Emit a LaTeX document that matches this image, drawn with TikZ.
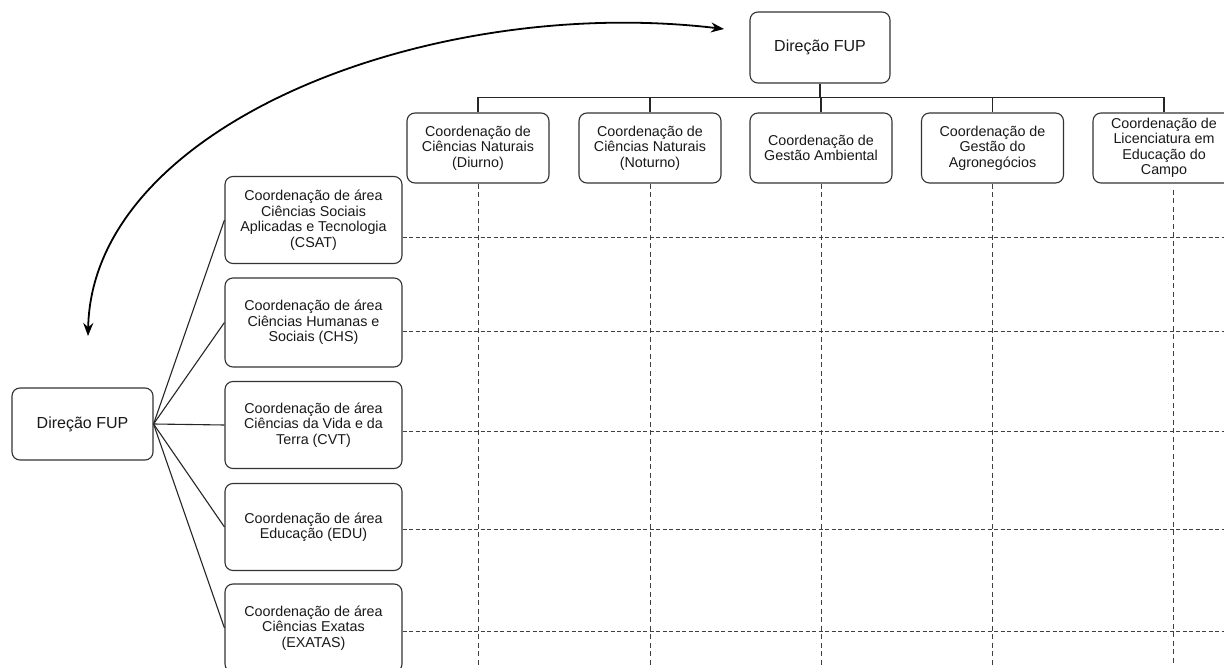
\documentclass[tikz,border=0pt]{standalone}
\usepackage{fontspec}
\setmainfont{Liberation Sans}
\usetikzlibrary{arrows.meta}
\tikzset{
  box/.style={draw=black!80, line width=1.1pt, rounded corners=8pt, align=center,
    inner sep=0pt, text=black!90, font=\fontsize{14.3}{15.5}\selectfont},
  dirbox/.style={box, font=\fontsize{16}{17}\selectfont},
  topbox/.style={box, minimum width=142pt, minimum height=70pt},
  areabox/.style={box, minimum width=177pt, minimum height=87pt},
  tree/.style={draw=black!85, line width=1.1pt},
  hgrid/.style={draw=black!75, line width=1pt, dash pattern=on 4pt off 2.5pt},
  vgrid/.style={draw=black!75, line width=1pt, dash pattern=on 5pt off 3.5pt},
  bigarrow/.style={draw=black, line width=1.8pt, {Stealth[length=13pt,width=10pt]}-{Stealth[length=13pt,width=10pt]}}
}
\begin{document}
\begin{tikzpicture}[x=1pt,y=-1pt]
\useasboundingbox[fill=white] (0,0) rectangle (1224,668);

% top hierarchy
\node[dirbox, minimum width=140pt, minimum height=71pt] (top) at (820,47.5) {Direção FUP};
\node[topbox] (c1) at (478,148) {Coordenação de\\Ciências Naturais\\(Diurno)};
\node[topbox] (c2) at (650,148) {Coordenação de\\Ciências Naturais\\(Noturno)};
\node[topbox] (c3) at (821,148) {Coordenação de\\Gestão Ambiental};
\node[topbox] (c4) at (992.5,148) {Coordenação de\\Gestão do\\Agronegócios};
\node[topbox] (c5) at (1164,148) {Coordenação de\\Licenciatura em\\Educação do\\Campo};

\coordinate (bus) at (820,97.5);
\draw[tree] (top.south) -- (bus);
\foreach \c in {c1,c2,c3,c4,c5} {\draw[tree] (bus) -| (\c.north);}

% left hierarchy
\node[dirbox, minimum width=141pt, minimum height=72pt] (dir) at (82.5,424) {Direção FUP};
\node[areabox] (a1) at (313.5,220) {Coordenação de área\\Ciências Sociais\\Aplicadas e Tecnologia\\(CSAT)};
\node[areabox, minimum height=89pt] (a2) at (313.5,322.5) {Coordenação de área\\Ciências Humanas e\\Sociais (CHS)};
\node[areabox] (a3) at (313.5,425) {Coordenação de área\\Ciências da Vida e da\\Terra (CVT)};
\node[areabox] (a4) at (313.5,527) {Coordenação de área\\Educação (EDU)};
\node[areabox, minimum height=88pt] (a5) at (313.5,628) {Coordenação de área\\Ciências Exatas\\(EXATAS)};

\foreach \a in {a1,a2,a3,a4,a5} {\draw[tree] (dir.east) -- (\a.west);}

% dashed grid
\draw[vgrid] (c1.south) -- (c1.south |- 0,665);
\draw[vgrid] (c2.south) -- (c2.south |- 0,665);
\draw[vgrid] (c3.south) -- (c3.south |- 0,665);
\draw[vgrid] (c4.south) -- (c4.south |- 0,665);
\coordinate (c5d) at (1173,190);
\draw[vgrid] (c5d) -- (c5d |- 0,665);

\draw[hgrid] (a1.east |- 0,238) -- (1224,238);
\draw[hgrid] (a2.east |- 0,332) -- (1224,332);
\draw[hgrid] (a3.east |- 0,431) -- (1224,431);
\draw[hgrid] (a4.east |- 0,529) -- (1224,529);
\draw[hgrid] (a5.east |- 0,631) -- (1224,631);

% curved double arrow
\coordinate (arrL) at (88,336);
\coordinate (arrR) at (724,29);
\draw[bigarrow] (arrL) .. controls (92,125) and (430,-6) .. (arrR);
\end{tikzpicture}
\end{document}
